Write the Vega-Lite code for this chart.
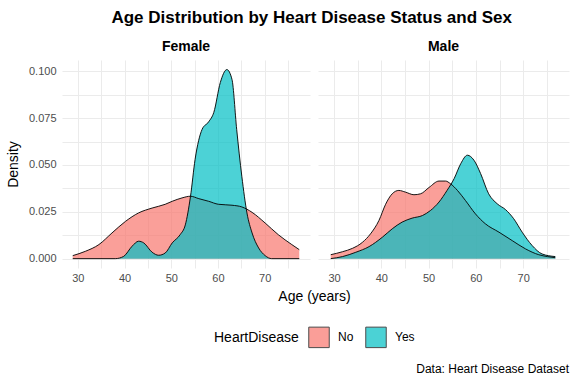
{
  "$schema": "https://vega.github.io/schema/vega-lite/v6.json",
  "background": "white",
  "padding": {"left": 6, "top": 9, "right": 4, "bottom": 6},
  "config": {
    "font": "Liberation Sans",
    "view": {"stroke": null},
    "axis": {"grid": true, "gridColor": "#EBEBEB", "gridWidth": 1, "domain": false, "ticks": false, "labelColor": "#4D4D4D", "labelFontSize": 11, "labelFont": "Liberation Sans", "titleFont": "Liberation Sans", "titleFontWeight": "normal", "titleFontSize": 14, "titleColor": "black"},
    "legend": {"labelFont": "Liberation Sans", "titleFont": "Liberation Sans"},
    "concat": {"spacing": 8}
  },
  "title": {"text": "Data: Heart Disease Dataset", "orient": "bottom", "anchor": "end", "fontSize": 12, "fontWeight": "normal", "font": "Liberation Sans", "color": "black", "offset": 14},
  "data": {"values": [
    {"sex": "Female", "hd": "No", "age": 28.9, "density": 0.0016},
    {"sex": "Female", "hd": "No", "age": 31.6, "density": 0.0039},
    {"sex": "Female", "hd": "No", "age": 34.5, "density": 0.0075},
    {"sex": "Female", "hd": "No", "age": 37.3, "density": 0.0137},
    {"sex": "Female", "hd": "No", "age": 40.2, "density": 0.0199},
    {"sex": "Female", "hd": "No", "age": 43.0, "density": 0.0244},
    {"sex": "Female", "hd": "No", "age": 45.9, "density": 0.0270},
    {"sex": "Female", "hd": "No", "age": 48.7, "density": 0.0290},
    {"sex": "Female", "hd": "No", "age": 50.2, "density": 0.0306},
    {"sex": "Female", "hd": "No", "age": 52.3, "density": 0.0324},
    {"sex": "Female", "hd": "No", "age": 54.1, "density": 0.0333},
    {"sex": "Female", "hd": "No", "age": 55.9, "density": 0.0320},
    {"sex": "Female", "hd": "No", "age": 58.0, "density": 0.0306},
    {"sex": "Female", "hd": "No", "age": 60.1, "density": 0.0290},
    {"sex": "Female", "hd": "No", "age": 63.0, "density": 0.0285},
    {"sex": "Female", "hd": "No", "age": 65.1, "density": 0.0276},
    {"sex": "Female", "hd": "No", "age": 67.3, "density": 0.0247},
    {"sex": "Female", "hd": "No", "age": 70.1, "density": 0.0190},
    {"sex": "Female", "hd": "No", "age": 72.9, "density": 0.0128},
    {"sex": "Female", "hd": "No", "age": 75.8, "density": 0.0075},
    {"sex": "Female", "hd": "No", "age": 77.4, "density": 0.0048},
    {"sex": "Female", "hd": "Yes", "age": 28.9, "density": 0.0},
    {"sex": "Female", "hd": "Yes", "age": 38.0, "density": 0.0},
    {"sex": "Female", "hd": "Yes", "age": 39.8, "density": 0.0012},
    {"sex": "Female", "hd": "Yes", "age": 41.6, "density": 0.0066},
    {"sex": "Female", "hd": "Yes", "age": 43.0, "density": 0.0093},
    {"sex": "Female", "hd": "Yes", "age": 44.1, "density": 0.0084},
    {"sex": "Female", "hd": "Yes", "age": 45.9, "density": 0.0034},
    {"sex": "Female", "hd": "Yes", "age": 47.3, "density": 0.0018},
    {"sex": "Female", "hd": "Yes", "age": 48.7, "density": 0.0030},
    {"sex": "Female", "hd": "Yes", "age": 50.2, "density": 0.0084},
    {"sex": "Female", "hd": "Yes", "age": 51.9, "density": 0.0128},
    {"sex": "Female", "hd": "Yes", "age": 53.0, "density": 0.0180},
    {"sex": "Female", "hd": "Yes", "age": 54.1, "density": 0.0330},
    {"sex": "Female", "hd": "Yes", "age": 55.1, "density": 0.0530},
    {"sex": "Female", "hd": "Yes", "age": 56.6, "density": 0.0690},
    {"sex": "Female", "hd": "Yes", "age": 58.0, "density": 0.0730},
    {"sex": "Female", "hd": "Yes", "age": 59.1, "density": 0.0780},
    {"sex": "Female", "hd": "Yes", "age": 60.5, "density": 0.0940},
    {"sex": "Female", "hd": "Yes", "age": 61.9, "density": 0.1009},
    {"sex": "Female", "hd": "Yes", "age": 63.0, "density": 0.0956},
    {"sex": "Female", "hd": "Yes", "age": 64.0, "density": 0.0690},
    {"sex": "Female", "hd": "Yes", "age": 65.1, "density": 0.0440},
    {"sex": "Female", "hd": "Yes", "age": 66.2, "density": 0.0244},
    {"sex": "Female", "hd": "Yes", "age": 67.3, "density": 0.0137},
    {"sex": "Female", "hd": "Yes", "age": 68.7, "density": 0.0057},
    {"sex": "Female", "hd": "Yes", "age": 70.1, "density": 0.0016},
    {"sex": "Female", "hd": "Yes", "age": 71.5, "density": 0.0},
    {"sex": "Female", "hd": "Yes", "age": 77.4, "density": 0.0},
    {"sex": "Male", "hd": "No", "age": 29.3, "density": 0.0021},
    {"sex": "Male", "hd": "No", "age": 31.8, "density": 0.0037},
    {"sex": "Male", "hd": "No", "age": 33.9, "density": 0.0055},
    {"sex": "Male", "hd": "No", "age": 36.0, "density": 0.0087},
    {"sex": "Male", "hd": "No", "age": 37.7, "density": 0.0132},
    {"sex": "Male", "hd": "No", "age": 39.5, "density": 0.0204},
    {"sex": "Male", "hd": "No", "age": 40.9, "density": 0.0290},
    {"sex": "Male", "hd": "No", "age": 42.3, "density": 0.0346},
    {"sex": "Male", "hd": "No", "age": 43.7, "density": 0.0364},
    {"sex": "Male", "hd": "No", "age": 45.1, "density": 0.0355},
    {"sex": "Male", "hd": "No", "age": 46.9, "density": 0.0341},
    {"sex": "Male", "hd": "No", "age": 48.3, "density": 0.0346},
    {"sex": "Male", "hd": "No", "age": 50.1, "density": 0.0380},
    {"sex": "Male", "hd": "No", "age": 52.2, "density": 0.0414},
    {"sex": "Male", "hd": "No", "age": 53.6, "density": 0.0414},
    {"sex": "Male", "hd": "No", "age": 54.6, "density": 0.0400},
    {"sex": "Male", "hd": "No", "age": 56.1, "density": 0.0364},
    {"sex": "Male", "hd": "No", "age": 57.8, "density": 0.0310},
    {"sex": "Male", "hd": "No", "age": 59.9, "density": 0.0239},
    {"sex": "Male", "hd": "No", "age": 62.0, "density": 0.0186},
    {"sex": "Male", "hd": "No", "age": 64.9, "density": 0.0141},
    {"sex": "Male", "hd": "No", "age": 67.7, "density": 0.0096},
    {"sex": "Male", "hd": "No", "age": 70.5, "density": 0.0052},
    {"sex": "Male", "hd": "No", "age": 73.3, "density": 0.0021},
    {"sex": "Male", "hd": "No", "age": 75.1, "density": 0.0011},
    {"sex": "Male", "hd": "No", "age": 76.8, "density": 0.0005},
    {"sex": "Male", "hd": "Yes", "age": 29.3, "density": 0.0},
    {"sex": "Male", "hd": "Yes", "age": 31.8, "density": 0.0011},
    {"sex": "Male", "hd": "Yes", "age": 34.6, "density": 0.0034},
    {"sex": "Male", "hd": "Yes", "age": 37.4, "density": 0.0064},
    {"sex": "Male", "hd": "Yes", "age": 40.2, "density": 0.0114},
    {"sex": "Male", "hd": "Yes", "age": 42.3, "density": 0.0159},
    {"sex": "Male", "hd": "Yes", "age": 44.4, "density": 0.0195},
    {"sex": "Male", "hd": "Yes", "age": 46.5, "density": 0.0216},
    {"sex": "Male", "hd": "Yes", "age": 48.7, "density": 0.0230},
    {"sex": "Male", "hd": "Yes", "age": 50.4, "density": 0.0257},
    {"sex": "Male", "hd": "Yes", "age": 52.2, "density": 0.0302},
    {"sex": "Male", "hd": "Yes", "age": 53.9, "density": 0.0364},
    {"sex": "Male", "hd": "Yes", "age": 55.4, "density": 0.0427},
    {"sex": "Male", "hd": "Yes", "age": 56.8, "density": 0.0507},
    {"sex": "Male", "hd": "Yes", "age": 58.2, "density": 0.0552},
    {"sex": "Male", "hd": "Yes", "age": 59.6, "density": 0.0525},
    {"sex": "Male", "hd": "Yes", "age": 61.0, "density": 0.0454},
    {"sex": "Male", "hd": "Yes", "age": 62.7, "density": 0.0346},
    {"sex": "Male", "hd": "Yes", "age": 64.5, "density": 0.0293},
    {"sex": "Male", "hd": "Yes", "age": 66.3, "density": 0.0261},
    {"sex": "Male", "hd": "Yes", "age": 68.0, "density": 0.0213},
    {"sex": "Male", "hd": "Yes", "age": 69.8, "density": 0.0141},
    {"sex": "Male", "hd": "Yes", "age": 71.9, "density": 0.0070},
    {"sex": "Male", "hd": "Yes", "age": 74.0, "density": 0.0025},
    {"sex": "Male", "hd": "Yes", "age": 76.8, "density": 0.0011}
  ]},
  "vconcat": [{
    "title": {"text": "Age Distribution by Heart Disease Status and Sex", "anchor": "middle", "fontSize": 17, "fontWeight": "bold", "font": "Liberation Sans", "color": "black", "offset": 13, "dx": 24},
    "bounds": "flush",
    "hconcat": [
      {
        "title": {"text": "Female", "anchor": "middle", "fontSize": 14, "fontWeight": "bold", "font": "Liberation Sans", "color": "black", "offset": 6},
        "width": 248, "height": 208,
        "transform": [{"filter": "datum.sex === 'Female'"}],
        "encoding": {
          "x": {"field": "age", "type": "quantitative", "scale": {"domain": [26.6, 79.7], "nice": false, "zero": false},
            "axis": {"values": [30, 35, 40, 45, 50, 55, 60, 65, 70, 75], "labelExpr": "datum.value % 10 === 0 ? datum.label : ''", "title": "Age (years)", "titleX": 252, "titlePadding": 6, "labelPadding": 4}},
          "y": {"field": "density", "type": "quantitative", "stack": null, "scale": {"domain": [-0.005, 0.106], "nice": false, "zero": false},
            "axis": {"values": [0, 0.0125, 0.025, 0.0375, 0.05, 0.0625, 0.075, 0.0875, 0.1], "labelExpr": "(datum.value * 1000) % 25 < 0.001 || (datum.value * 1000) % 25 > 24.999 ? format(datum.value, '.3f') : ''", "title": "Density", "titlePadding": 8, "labelPadding": 6}}
        },
        "layer": [
          {"mark": {"type": "area", "fillOpacity": 0.7, "interpolate": "monotone", "clip": true},
           "encoding": {"color": {"field": "hd", "type": "nominal", "scale": {"domain": ["No", "Yes"], "range": ["#F8766D", "#00BFC4"]},
             "legend": {"title": "HeartDisease", "orient": "none", "legendX": 152, "legendY": 266, "direction": "horizontal", "titleOrient": "left", "titleFontSize": 14, "titleFontWeight": "normal", "titleColor": "black", "labelFontSize": 12, "labelColor": "black", "symbolType": "square", "symbolSize": 420, "symbolOpacity": 0.7, "symbolStrokeColor": "black", "symbolStrokeWidth": 1, "titlePadding": 9, "labelOffset": 8, "columnPadding": 9}}}},
          {"mark": {"type": "line", "color": "black", "strokeWidth": 0.9, "interpolate": "monotone", "clip": true},
           "encoding": {"detail": {"field": "hd", "type": "nominal"}}}
        ]
      },
      {
        "title": {"text": "Male", "anchor": "middle", "fontSize": 14, "fontWeight": "bold", "font": "Liberation Sans", "color": "black", "offset": 6},
        "width": 251, "height": 208,
        "transform": [{"filter": "datum.sex === 'Male'"}],
        "encoding": {
          "x": {"field": "age", "type": "quantitative", "scale": {"domain": [26.6, 79.7], "nice": false, "zero": false},
            "axis": {"values": [30, 35, 40, 45, 50, 55, 60, 65, 70, 75], "labelExpr": "datum.value % 10 === 0 ? datum.label : ''", "title": null, "labelPadding": 4}},
          "y": {"field": "density", "type": "quantitative", "stack": null, "scale": {"domain": [-0.005, 0.106], "nice": false, "zero": false},
            "axis": {"values": [0, 0.0125, 0.025, 0.0375, 0.05, 0.0625, 0.075, 0.0875, 0.1], "labels": false, "title": null}}
        },
        "layer": [
          {"mark": {"type": "area", "fillOpacity": 0.7, "interpolate": "monotone", "clip": true},
           "encoding": {"color": {"field": "hd", "type": "nominal"}}},
          {"mark": {"type": "line", "color": "black", "strokeWidth": 0.9, "interpolate": "monotone", "clip": true},
           "encoding": {"detail": {"field": "hd", "type": "nominal"}}}
        ]
      }
    ]
  }]
}
